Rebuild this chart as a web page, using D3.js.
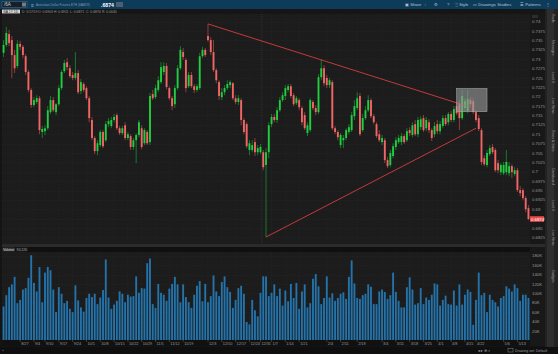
<!DOCTYPE html>
<html>
<head>
<meta charset="utf-8">
<script src="https://cdn.jsdelivr.net/npm/d3@7"></script>
<style>
  body { margin: 0; background: #121212; overflow: hidden; }
  svg { display: block; font-family: "Liberation Sans", Arial, sans-serif; }
</style>
</head>
<body>
<svg id="chart" width="558" height="354"></svg>
<script>
// Trading days shown on the chart (weekends and these holidays are skipped)
var firstDay = "2018-08-17", lastDay = "2019-05-17";
var holidays = ["2018-09-03", "2018-11-22", "2018-12-25", "2019-01-01", "2019-04-19"];

// Daily candles, one row per trading day: [open, high, low, close]
var ohlc = [
  [0.7317,0.7351,0.7306,0.7338],[0.7338,0.7386,0.7333,0.7370],[0.7367,0.7378,0.7335,0.7343],[0.7351,0.7362,0.7250,0.7311],
  [0.7311,0.7325,0.7263,0.7276],[0.7282,0.7351,0.7276,0.7341],[0.7341,0.7349,0.7325,0.7333],[0.7333,0.7338,0.7303,0.7311],
  [0.7308,0.7314,0.7258,0.7266],[0.7266,0.7271,0.7212,0.7218],[0.7218,0.7223,0.7170,0.7178],[0.7178,0.7199,0.7172,0.7191],
  [0.7186,0.7204,0.7180,0.7196],[0.7196,0.7202,0.7100,0.7111],[0.7106,0.7122,0.7090,0.7114],[0.7108,0.7124,0.7098,0.7116],
  [0.7116,0.7175,0.7111,0.7164],[0.7159,0.7202,0.7154,0.7191],[0.7191,0.7199,0.7159,0.7164],[0.7159,0.7183,0.7151,0.7180],
  [0.7180,0.7231,0.7175,0.7223],[0.7223,0.7271,0.7218,0.7266],[0.7268,0.7298,0.7263,0.7290],[0.7292,0.7303,0.7271,0.7279],
  [0.7276,0.7284,0.7250,0.7255],[0.7258,0.7266,0.7244,0.7250],[0.7250,0.7319,0.7244,0.7263],[0.7263,0.7271,0.7207,0.7212],
  [0.7215,0.7247,0.7207,0.7239],[0.7234,0.7239,0.7212,0.7218],[0.7223,0.7228,0.7191,0.7196],[0.7196,0.7202,0.7132,0.7143],
  [0.7138,0.7146,0.7084,0.7090],[0.7090,0.7095,0.7047,0.7055],[0.7055,0.7084,0.7044,0.7076],[0.7071,0.7111,0.7066,0.7106],
  [0.7106,0.7111,0.7063,0.7068],[0.7084,0.7135,0.7079,0.7127],[0.7127,0.7143,0.7119,0.7135],[0.7122,0.7146,0.7116,0.7138],
  [0.7138,0.7154,0.7132,0.7146],[0.7151,0.7156,0.7111,0.7116],[0.7116,0.7122,0.7098,0.7103],[0.7103,0.7122,0.7098,0.7116],
  [0.7124,0.7132,0.7084,0.7090],[0.7090,0.7106,0.7084,0.7100],[0.7095,0.7100,0.7058,0.7066],[0.7066,0.7090,0.7058,0.7084],
  [0.7084,0.7103,0.7023,0.7098],[0.7098,0.7138,0.7092,0.7132],[0.7116,0.7124,0.7060,0.7066],[0.7076,0.7116,0.7071,0.7111],
  [0.7106,0.7111,0.7071,0.7076],[0.7079,0.7210,0.7071,0.7202],[0.7207,0.7218,0.7191,0.7196],[0.7199,0.7231,0.7194,0.7223],
  [0.7218,0.7255,0.7212,0.7244],[0.7239,0.7292,0.7234,0.7279],[0.7266,0.7292,0.7258,0.7282],[0.7282,0.7290,0.7220,0.7226],
  [0.7223,0.7228,0.7191,0.7196],[0.7196,0.7202,0.7164,0.7175],[0.7180,0.7231,0.7170,0.7223],[0.7223,0.7284,0.7218,0.7276],
  [0.7276,0.7335,0.7271,0.7325],[0.7319,0.7330,0.7298,0.7306],[0.7298,0.7303,0.7212,0.7223],[0.7228,0.7266,0.7223,0.7258],
  [0.7258,0.7266,0.7223,0.7228],[0.7228,0.7234,0.7210,0.7218],[0.7218,0.7234,0.7212,0.7228],[0.7223,0.7317,0.7218,0.7308],
  [0.7308,0.7333,0.7303,0.7325],[0.7325,0.7330,0.7306,0.7311],[0.7362,0.7394,0.7346,0.7351],[0.7351,0.7359,0.7311,0.7319],
  [0.7319,0.7351,0.7266,0.7271],[0.7271,0.7276,0.7236,0.7244],[0.7239,0.7244,0.7191,0.7202],[0.7199,0.7223,0.7191,0.7212],
  [0.7212,0.7231,0.7204,0.7223],[0.7223,0.7244,0.7218,0.7234],[0.7231,0.7244,0.7223,0.7239],[0.7236,0.7239,0.7191,0.7196],
  [0.7196,0.7204,0.7180,0.7186],[0.7186,0.7204,0.7178,0.7196],[0.7191,0.7196,0.7124,0.7138],[0.7138,0.7143,0.7100,0.7106],
  [0.7127,0.7132,0.7063,0.7068],[0.7058,0.7084,0.7044,0.7076],[0.7058,0.7084,0.7052,0.7071],[0.7079,0.7090,0.7042,0.7052],
  [0.7052,0.7071,0.7044,0.7063],[0.7052,0.7074,0.7047,0.7066],[0.7052,0.7058,0.7004,0.7012],[0.7018,0.7063,0.6826,0.7052],
  [0.7052,0.7132,0.7036,0.7124],[0.7127,0.7154,0.7119,0.7146],[0.7146,0.7154,0.7132,0.7138],[0.7138,0.7172,0.7130,0.7164],
  [0.7164,0.7199,0.7159,0.7191],[0.7191,0.7212,0.7186,0.7204],[0.7202,0.7231,0.7191,0.7223],[0.7218,0.7234,0.7212,0.7228],
  [0.7228,0.7234,0.7196,0.7202],[0.7204,0.7210,0.7175,0.7180],[0.7183,0.7202,0.7178,0.7196],[0.7191,0.7196,0.7164,0.7172],
  [0.7170,0.7175,0.7124,0.7132],[0.7151,0.7159,0.7111,0.7116],[0.7103,0.7132,0.7095,0.7124],[0.7111,0.7196,0.7106,0.7191],
  [0.7186,0.7191,0.7164,0.7170],[0.7170,0.7178,0.7151,0.7159],[0.7159,0.7260,0.7154,0.7252],[0.7252,0.7300,0.7244,0.7276],
  [0.7276,0.7284,0.7228,0.7236],[0.7250,0.7258,0.7223,0.7231],[0.7231,0.7250,0.7223,0.7244],[0.7239,0.7244,0.7111,0.7116],
  [0.7116,0.7122,0.7100,0.7106],[0.7106,0.7111,0.7084,0.7092],[0.7071,0.7103,0.7063,0.7098],[0.7084,0.7098,0.7063,0.7090],
  [0.7090,0.7116,0.7084,0.7111],[0.7106,0.7127,0.7100,0.7119],[0.7111,0.7159,0.7106,0.7151],[0.7148,0.7191,0.7138,0.7175],
  [0.7170,0.7212,0.7164,0.7196],[0.7202,0.7210,0.7095,0.7100],[0.7111,0.7154,0.7106,0.7143],[0.7143,0.7175,0.7138,0.7164],
  [0.7164,0.7204,0.7159,0.7191],[0.7191,0.7196,0.7143,0.7148],[0.7148,0.7154,0.7127,0.7132],[0.7127,0.7132,0.7090,0.7095],
  [0.7100,0.7111,0.7079,0.7084],[0.7079,0.7098,0.7071,0.7090],[0.7084,0.7090,0.7023,0.7031],[0.7031,0.7039,0.7010,0.7015],
  [0.7018,0.7058,0.7012,0.7050],[0.7042,0.7076,0.7036,0.7068],[0.7066,0.7092,0.7058,0.7084],[0.7079,0.7098,0.7074,0.7090],
  [0.7079,0.7103,0.7071,0.7095],[0.7095,0.7100,0.7074,0.7079],[0.7084,0.7116,0.7079,0.7108],[0.7111,0.7119,0.7095,0.7103],
  [0.7098,0.7132,0.7092,0.7124],[0.7127,0.7138,0.7095,0.7100],[0.7100,0.7146,0.7092,0.7138],[0.7119,0.7148,0.7111,0.7140],
  [0.7143,0.7151,0.7106,0.7111],[0.7116,0.7146,0.7108,0.7138],[0.7132,0.7140,0.7103,0.7111],[0.7111,0.7116,0.7082,0.7090],
  [0.7100,0.7132,0.7092,0.7122],[0.7127,0.7138,0.7100,0.7108],[0.7108,0.7135,0.7100,0.7127],[0.7122,0.7151,0.7116,0.7143],
  [0.7143,0.7151,0.7122,0.7127],[0.7132,0.7159,0.7124,0.7154],[0.7154,0.7162,0.7132,0.7138],[0.7138,0.7175,0.7132,0.7167],
  [0.7175,0.7186,0.7151,0.7156],[0.7180,0.7191,0.7111,0.7143],[0.7143,0.7218,0.7138,0.7202],[0.7170,0.7196,0.7159,0.7188],
  [0.7162,0.7218,0.7156,0.7194],[0.7191,0.7199,0.7175,0.7180],[0.7188,0.7196,0.7154,0.7159],[0.7159,0.7164,0.7132,0.7138],
  [0.7143,0.7151,0.7108,0.7114],[0.7111,0.7116,0.7018,0.7026],[0.7036,0.7044,0.7015,0.7020],[0.7018,0.7058,0.7012,0.7050],
  [0.7047,0.7071,0.7042,0.7063],[0.7066,0.7074,0.7047,0.7052],[0.7058,0.7063,0.6999,0.7004],[0.7023,0.7031,0.6996,0.7004],
  [0.6999,0.7023,0.6991,0.7018],[0.6996,0.7026,0.6991,0.7018],[0.6999,0.7058,0.6991,0.7026],[0.6996,0.7026,0.6988,0.7015],
  [0.7015,0.7020,0.6983,0.6999],[0.6994,0.7012,0.6988,0.7004],[0.7004,0.7010,0.6946,0.6951],[0.6951,0.6962,0.6935,0.6943],
  [0.6951,0.6956,0.6924,0.6930],[0.6930,0.6935,0.6892,0.6900],[0.6903,0.6911,0.6871,0.6874]
];

// Daily volume (thousands of contracts)
var volume = [
  72,96,113,119,135,79,86,108,111,133,181,122,104,156,81,144,156,149,108,60,
  113,99,79,84,67,60,117,85,70,61,90,99,92,99,77,91,107,172,91,67,
  76,84,104,99,81,97,93,94,136,101,111,110,164,174,77,69,120,101,97,84,
  110,120,135,119,81,119,92,81,69,97,116,126,83,120,81,94,138,104,94,124,
  136,113,103,69,86,111,116,99,39,34,86,64,51,101,136,136,94,101,119,
  94,110,74,106,83,120,90,122,67,104,119,70,79,131,141,115,77,90,136,91,
  100,84,90,99,102,88,135,170,121,90,88,96,99,119,114,77,77,104,108,103,
  88,96,144,103,84,70,70,113,134,108,76,79,111,77,91,86,97,121,119,74,
  86,95,77,76,106,74,119,76,97,108,103,33,86,144,96,101,60,97,86,81,
  72,90,94,115,110,104,119,111,84,97,97,90
];

// Axis ticks
var priceTicks = [0.6825,0.685,0.6875,0.69,0.6925,0.695,0.6975,0.70,0.7025,0.705,0.7075,0.71,
                  0.7125,0.715,0.7175,0.72,0.7225,0.725,0.7275,0.73,0.7325,0.735,0.7375,0.74];
var volumeTicks = [20,40,60,80,100,120,140,160,180];
var dateTicks = [
  ["2018-08-27","8/27"],["2018-09-04","9/4"],["2018-09-10","9/10"],["2018-09-17","9/17"],["2018-09-24","9/24"],
  ["2018-10-01","10/1"],["2018-10-08","10/8"],["2018-10-15","10/15"],["2018-10-22","10/22"],["2018-10-29","10/29"],
  ["2018-11-05","11/5"],["2018-11-12","11/12"],["2018-11-19","11/19"],["2018-12-03","12/3"],["2018-12-10","12/10"],
  ["2018-12-17","12/17"],["2018-12-24","12/24"],["2018-12-31","12/31"],["2019-01-07","1/7"],["2019-01-14","1/14"],
  ["2019-01-21","1/21"],["2019-02-04","2/4"],["2019-02-11","2/11"],["2019-02-19","2/18"],["2019-03-04","3/4"],
  ["2019-03-11","3/11"],["2019-03-18","3/18"],["2019-03-25","3/25"],["2019-04-01","4/1"],["2019-04-08","4/8"],
  ["2019-04-15","4/15"],["2019-04-22","4/22"],["2019-05-06","5/6"],["2019-05-13","5/13"]
];

// Drawings on the chart
var trendLines = [
  { from: "2018-12-03", p1: 0.7394, to: "2019-04-17", p2: 0.7172 },
  { from: "2019-01-03", p1: 0.6826, to: "2019-04-22", p2: 0.7116 }
];
var box = { from: "2019-04-10", to: "2019-04-26", top: 0.7222, bottom: 0.7160 };
var lastPrice = 0.6874;

// ---- build trading day list ----
var fmt = d3.timeFormat("%Y-%m-%d");
var days = d3.timeDay.range(new Date(firstDay + "T00:00"), d3.timeDay.offset(new Date(lastDay + "T00:00"), 1))
  .filter(function(d) { return d.getDay() !== 0 && d.getDay() !== 6 && holidays.indexOf(fmt(d)) < 0; })
  .map(fmt);
var candles = ohlc.map(function(r, i) {
  return { date: days[i], o: r[0], h: r[1], l: r[2], c: r[3], v: volume[i] };
});

var svg = d3.select("#chart");
var W = 558, H = 354;
var plot = { left: 2, right: 530, top: 14, bottom: 244 };
var vol = { top: 252, bottom: 340 };

var x = d3.scaleBand().domain(days).range([2.62, 529.4]).paddingInner(0.32);
var xc = function(d) { return x(d) + x.bandwidth() / 2; };
var y = d3.scaleLinear().domain([0.6825, 0.74]).range([237.4, 21.7]);
var yv = d3.scaleLinear().domain([0, 180]).range([340.3, 255.7]);

var up = "#1fcf3f", down = "#f26666";

// frame
svg.append("rect").attr("width", W).attr("height", H).attr("fill", "#141414");

// top toolbar
svg.append("rect").attr("width", W).attr("height", 9).attr("fill", "#0d3b5a");
svg.append("rect").attr("x", 2).attr("y", 1.5).attr("width", 25).attr("height", 6).attr("fill", "#15202a").attr("stroke", "#5a6f80").attr("stroke-width", 0.5);
svg.append("text").attr("x", 4).attr("y", 6.3).attr("font-size", 4.5).attr("fill", "#cfd8df").text("/6A");
svg.append("rect").attr("x", 22).attr("y", 2.5).attr("width", 4).attr("height", 4).attr("fill", "#6c7f8e");
svg.append("text").attr("x", 31).attr("y", 6.5).attr("font-size", 5).attr("fill", "#9fb3c3").text("\u2261");
svg.append("text").attr("x", 36).attr("y", 6.1).attr("font-size", 3.1).attr("fill", "#7f9ab0")
  .text("Australian Dollar Futures,ETH (6AM19)");
svg.append("text").attr("x", 101).attr("y", 6.6).attr("font-size", 5.2).attr("font-weight", "bold").attr("fill", "#ffffff").text(".6874");
svg.append("rect").attr("x", 116).attr("y", 2).attr("width", 7).attr("height", 5).attr("fill", "#4a5f74");
var tools = [[405, "\u25a3 Share"], [424, "\u2191"], [434, "\u2699"], [447, "?"], [455, "\u2591 Style"], [473, "\u25ad Drawings"], [494, "\u2191 Studies"], [520, "\u2630 Patterns"], [546, "\u22ee"]];
svg.append("g").selectAll("text").data(tools).join("text")
  .attr("x", function(d) { return d[0]; }).attr("y", 6.3)
  .attr("font-size", 4.2).attr("fill", "#b8c8d6")
  .text(function(d) { return d[1]; });

// second row: study info strip
svg.append("rect").attr("x", 0).attr("y", 9).attr("width", 545).attr("height", 5).attr("fill", "#161616");
svg.append("rect").attr("x", 2).attr("y", 9.6).attr("width", 18).attr("height", 3.8).attr("fill", "#d9d9d9");
svg.append("text").attr("x", 3).attr("y", 12.8).attr("font-size", 3.4).attr("fill", "#111").text("/6A 1Y 1D");
var info = ["D: 5/17/19", "O: 0.6903", "H: 0.6911", "L: 0.6871", "C: 0.6874", "R: 0.0040"];
svg.append("g").selectAll("text").data(info).join("text")
  .attr("x", function(d, i) { return 22 + i * 16; }).attr("y", 12.8)
  .attr("font-size", 3.4).attr("fill", "#9a9a9a").text(function(d) { return d; });

// price plot background + right axis area
svg.append("rect").attr("x", plot.left).attr("y", plot.top).attr("width", plot.right - plot.left).attr("height", plot.bottom - plot.top).attr("fill", "#1c1c1c");
svg.append("rect").attr("x", 530).attr("y", 14).attr("width", 15).attr("height", 332).attr("fill", "#181818");

// grid
var grid = svg.append("g").attr("stroke", "#2a2a2a").attr("stroke-width", 0.6).attr("stroke-dasharray", "1,1.5");
grid.selectAll("line.h").data(priceTicks).join("line").attr("class", "h")
  .attr("x1", plot.left).attr("x2", plot.right)
  .attr("y1", function(d) { return Math.round(y(d)) + 0.5; }).attr("y2", function(d) { return Math.round(y(d)) + 0.5; });
grid.selectAll("line.v").data(dateTicks).join("line").attr("class", "v")
  .attr("x1", function(d) { return xc(d[0]); }).attr("x2", function(d) { return xc(d[0]); })
  .attr("y1", plot.top).attr("y2", plot.bottom);
// year separator
svg.append("line").attr("x1", xc("2018-12-31") + 1.4).attr("x2", xc("2018-12-31") + 1.4)
  .attr("y1", plot.top).attr("y2", plot.bottom).attr("stroke", "#3a3a3a").attr("stroke-dasharray", "1,1").attr("stroke-width", 0.7);

// candles
var cg = svg.append("g");
cg.selectAll("line").data(candles).join("line")
  .attr("x1", function(d) { return xc(d.date); }).attr("x2", function(d) { return xc(d.date); })
  .attr("y1", function(d) { return y(d.h); }).attr("y2", function(d) { return y(d.l); })
  .attr("stroke", function(d) { return d.c >= d.o ? "#1a8f33" : "#a84848"; }).attr("stroke-width", 0.8);
cg.selectAll("rect").data(candles).join("rect")
  .attr("x", function(d) { return x(d.date); })
  .attr("width", x.bandwidth())
  .attr("y", function(d) { return y(Math.max(d.o, d.c)); })
  .attr("height", function(d) { return Math.max(1, Math.abs(y(d.o) - y(d.c))); })
  .attr("fill", function(d) { return d.c >= d.o ? up : down; });

// triangle lines
svg.append("g").selectAll("line").data(trendLines).join("line")
  .attr("x1", function(d) { return xc(d.from); }).attr("y1", function(d) { return y(d.p1); })
  .attr("x2", function(d) { return xc(d.to); }).attr("y2", function(d) { return y(d.p2); })
  .attr("stroke", "#c23a3a").attr("stroke-width", 1);

// highlight box
svg.append("rect")
  .attr("x", xc(box.from)).attr("y", y(box.top))
  .attr("width", xc(box.to) - xc(box.from)).attr("height", y(box.bottom) - y(box.top))
  .attr("fill", "#9a9a9a").attr("fill-opacity", 0.62).attr("stroke", "#b0b0b0").attr("stroke-width", 0.5);

// price axis labels
svg.append("g").selectAll("text").data(priceTicks).join("text")
  .attr("x", 532).attr("y", function(d) { return y(d) + 1.6; })
  .attr("font-size", 4.3).attr("fill", "#9a9a9a")
  .text(function(d) { return String(+d.toFixed(4)); });

// last price tag
svg.append("rect").attr("x", 530).attr("y", y(lastPrice) - 2.8).attr("width", 14).attr("height", 5.6).attr("fill", "#e34b4b");
svg.append("text").attr("x", 531).attr("y", y(lastPrice) + 1.6).attr("font-size", 4.3).attr("fill", "#ffffff").text(lastPrice.toFixed(4));

// divider between panes
svg.append("rect").attr("x", 2).attr("y", 244).attr("width", 543).attr("height", 3).attr("fill", "#2b2b2b");
svg.append("rect").attr("x", 2).attr("y", 247).attr("width", 528).attr("height", 5).attr("fill", "#101010");
svg.append("rect").attr("x", 2.5).attr("y", 247.6).attr("width", 12.5).attr("height", 3.8).attr("fill", "#3a3a3a");
svg.append("text").attr("x", 3.2).attr("y", 250.7).attr("font-size", 3.3).attr("fill", "#cfcfcf").text("Volume");
svg.append("rect").attr("x", 16).attr("y", 247.6).attr("width", 12).attr("height", 3.8).attr("fill", "#1e1e1e");
svg.append("text").attr("x", 16.8).attr("y", 250.7).attr("font-size", 3.3).attr("fill", "#9a9a9a").text("90,126");

// volume pane
svg.append("rect").attr("x", plot.left).attr("y", vol.top).attr("width", plot.right - plot.left).attr("height", vol.bottom - vol.top).attr("fill", "#1c1c1c");
var vgrid = svg.append("g").attr("stroke", "#2a2a2a").attr("stroke-width", 0.6).attr("stroke-dasharray", "1,1.5");
vgrid.selectAll("line.h").data(volumeTicks).join("line").attr("class", "h")
  .attr("x1", plot.left).attr("x2", plot.right)
  .attr("y1", function(d) { return Math.round(yv(d)) + 0.5; }).attr("y2", function(d) { return Math.round(yv(d)) + 0.5; });
vgrid.selectAll("line.v").data(dateTicks).join("line").attr("class", "v")
  .attr("x1", function(d) { return xc(d[0]); }).attr("x2", function(d) { return xc(d[0]); })
  .attr("y1", vol.top).attr("y2", vol.bottom);

svg.append("g").selectAll("rect").data(candles).join("rect")
  .attr("x", function(d) { return x(d.date); })
  .attr("width", x.bandwidth())
  .attr("y", function(d) { return yv(d.v); })
  .attr("height", function(d) { return yv(0) - yv(d.v); })
  .attr("fill", "#2473aa");

svg.append("g").selectAll("text").data(volumeTicks).join("text")
  .attr("x", 532).attr("y", function(d) { return yv(d) + 1.6; })
  .attr("font-size", 4.3).attr("fill", "#9a9a9a")
  .text(function(d) { return d + "K"; });

// date axis
svg.append("rect").attr("x", 2).attr("y", 340).attr("width", 528).attr("height", 6).attr("fill", "#111111");
var xa = svg.append("g");
xa.selectAll("line").data(dateTicks).join("line")
  .attr("x1", function(d) { return xc(d[0]); }).attr("x2", function(d) { return xc(d[0]); })
  .attr("y1", 340).attr("y2", 342).attr("stroke", "#666").attr("stroke-width", 0.5);
xa.selectAll("text").data(dateTicks).join("text")
  .attr("x", function(d) { return xc(d[0]) + 1; }).attr("y", 344.5)
  .attr("font-size", 3.8).attr("fill", "#9a9a9a")
  .text(function(d) { return d[1]; });

// right side panel with vertical tabs
svg.append("rect").attr("x", 545).attr("y", 9).attr("width", 13).attr("height", 338).attr("fill", "#222222");
svg.append("rect").attr("x", 547).attr("y", 9).attr("width", 7).attr("height", 338).attr("fill", "#2e2e2e");
var tabs = [[14, "Trade"], [40, "Messages"], [72, "Level II"], [98, "Live News"], [130, "Times & Sales"], [168, "Dashboard"], [200, "Level II"], [230, "Live News"], [270, "Gadgets"]];
svg.append("g").selectAll("text").data(tabs).join("text")
  .attr("transform", function(d) { return "translate(551.8," + d[0] + ") rotate(90)"; })
  .attr("font-size", 3.4).attr("fill", "#9a9a9a").text(function(d) { return d[1]; });
svg.append("rect").attr("x", 532).attr("y", 15).attr("width", 6).attr("height", 3).attr("fill", "#2d2d2d");

// bottom status bar
svg.append("rect").attr("x", 0).attr("y", 347).attr("width", W).attr("height", 7).attr("fill", "#0f0f0f");
svg.append("text").attr("x", 2).attr("y", 351.5).attr("font-size", 3.5).attr("fill", "#777").text("\u00ab");
svg.append("text").attr("x", 478).attr("y", 351.5).attr("font-size", 3.8).attr("fill", "#9a9a9a").text("\u25cf\u25cf \u2295 \u2316");
svg.append("rect").attr("x", 508).attr("y", 348.5).attr("width", 5).attr("height", 3.5).attr("fill", "none").attr("stroke", "#888").attr("stroke-width", 0.5);
svg.append("text").attr("x", 515).attr("y", 351.5).attr("font-size", 3.6).attr("fill", "#9a9a9a").text("Drawing set: Default");
</script>
</body>
</html>
